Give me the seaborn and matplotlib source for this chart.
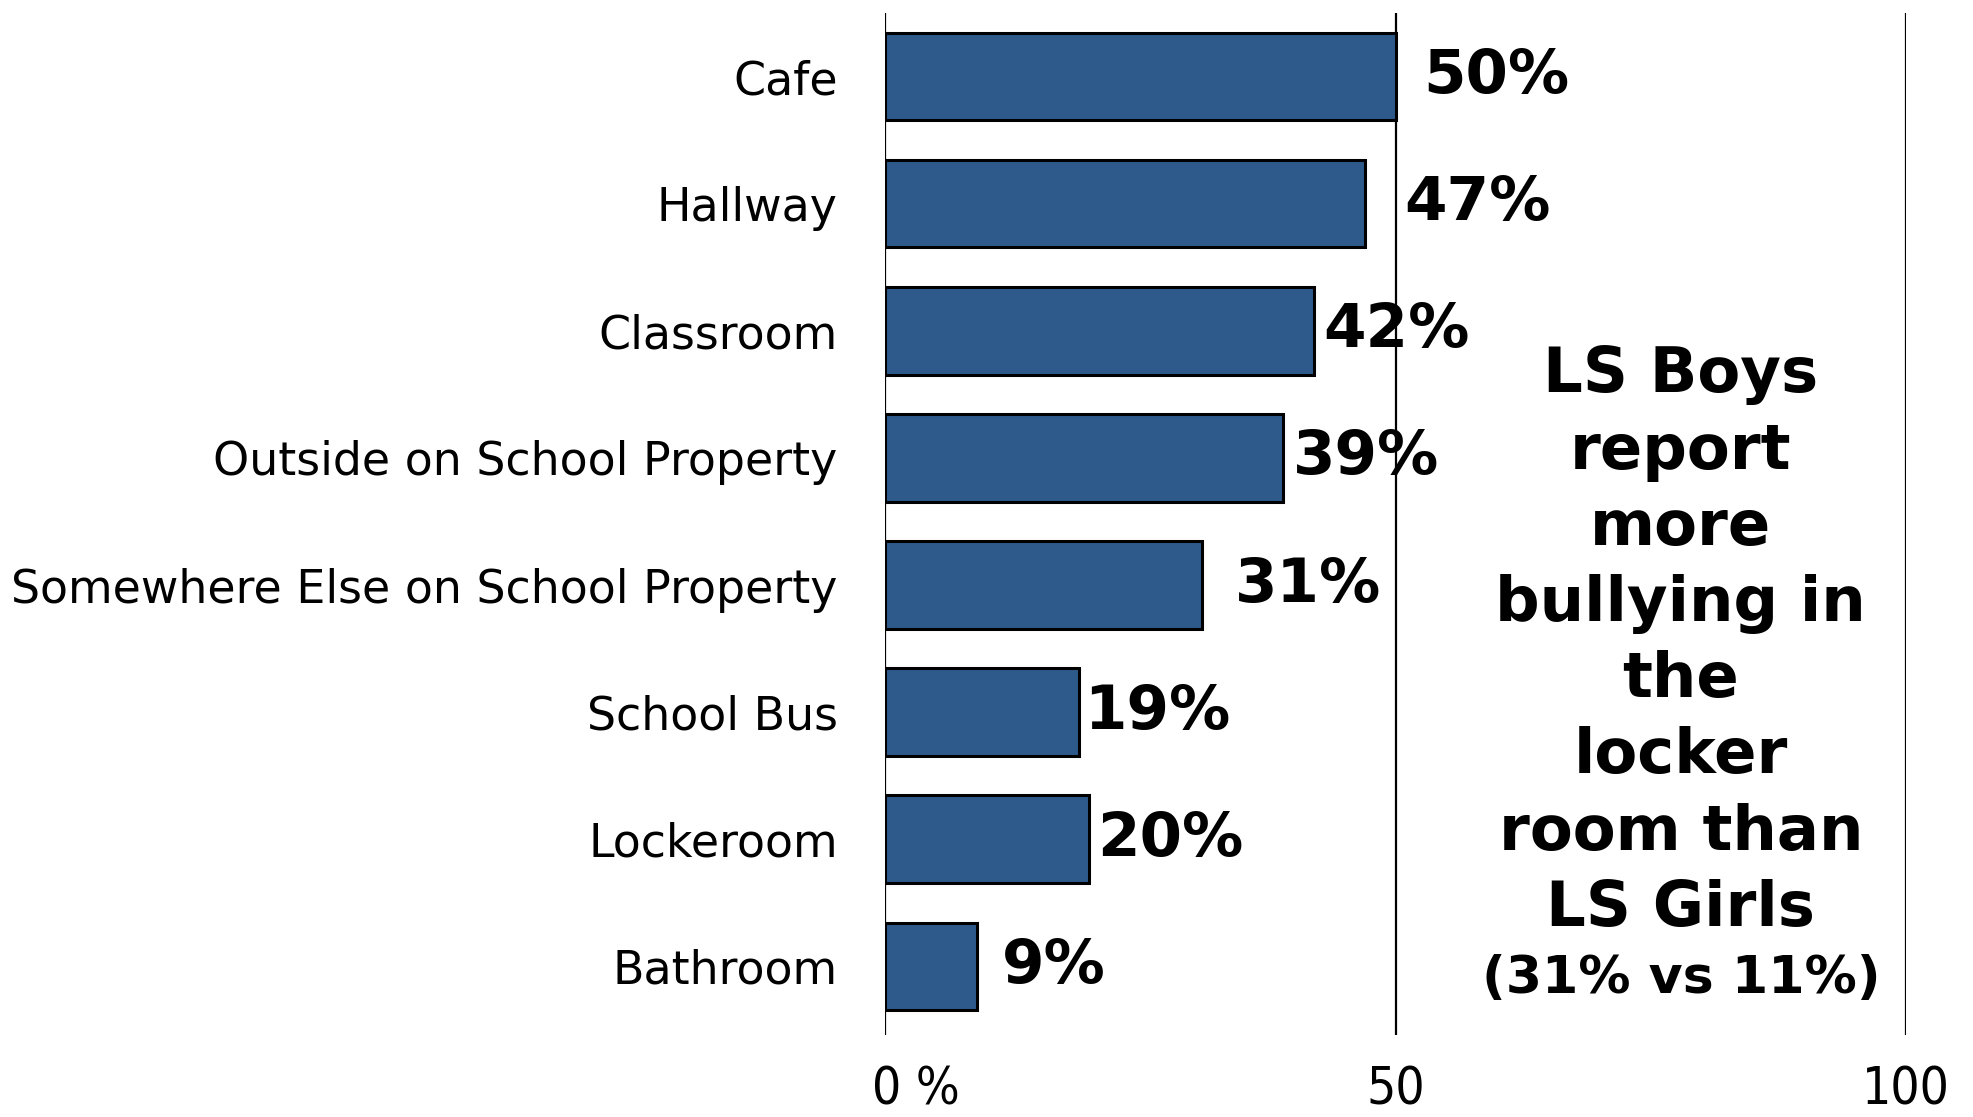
import matplotlib
matplotlib.use("Agg")
import matplotlib.pyplot as plt
import matplotlib.transforms as mtransforms
import seaborn as sns
import pandas as pd

# Where bullying happens (percent of respondents)
locations = ["Cafe", "Hallway", "Classroom", "Outside on School Property",
             "Somewhere Else on School Property", "School Bus", "Lockeroom", "Bathroom"]
percents = [50, 47, 42, 39, 31, 19, 20, 9]
value_labels = ["50%", "47%", "42%", "39%", "31%", "19%", "20%", "9%"]
tick_values = [0, 50, 100]
tick_labels = ["0 %", "50", "100"]
note_lines = ["LS Boys", "report", "more", "bullying in", "the", "locker",
              "room than", "LS Girls"]
note_sub = "(31% vs 11%)"

# horizontal gap (in points) between each bar end and its label
label_gaps = [20, 28, 7, 7, 24, 4, 6, 18]

sns.set_theme(style="white")
plt.rcParams["font.family"] = ["DejaVu Sans"]

df = pd.DataFrame({"location": locations, "percent": percents})

fig = plt.figure(figsize=(19.74, 11.17), dpi=100)
ax = fig.add_axes([0.4483, 0.0734, 0.5173, 0.915])

sns.barplot(data=df, x="percent", y="location", orient="h", color="#2E5A8B",
            saturation=1, edgecolor="black", linewidth=2.2, width=0.69, ax=ax)

ax.set_xlim(0, 100)
ax.set_ylim(7.54, -0.5)
for s in ax.spines.values():
    s.set_visible(False)

for v in tick_values:
    ax.axvline(v, color="black", lw=1.6, zorder=0)

# x tick labels drawn as text so the "0" sits centred on its line
ax.set_xticks(tick_values)
ax.set_xticklabels([])
ax.tick_params(axis="x", length=0)
xlab_tf = ax.get_xaxis_transform()
for v, lab in zip(tick_values, tick_labels):
    if lab.startswith("0 "):
        tf = mtransforms.offset_copy(xlab_tf, fig=fig, x=-9, y=0, units="points")
        ax.text(v, -0.054, lab, transform=tf, ha="left", va="center",
                fontsize=37, fontstretch="condensed", color="black")
    else:
        ax.text(v, -0.054, lab, transform=xlab_tf, ha="center", va="center",
                fontsize=37, fontstretch="condensed", color="black")

ax.tick_params(axis="y", length=0, pad=34, labelsize=33)
for t in ax.get_yticklabels():
    t.set_color("black")
ax.set_xlabel("")
ax.set_ylabel("")

for i, (val, lab, gap) in enumerate(zip(percents, value_labels, label_gaps)):
    ax.annotate(lab, xy=(val, i), xytext=(gap, 0), textcoords="offset points",
                ha="left", va="center", fontsize=44, fontweight="bold", color="black")

fig.text(0.8515, 0.4252, "\n".join(note_lines), ha="center", va="center",
         fontsize=45, fontweight="bold", linespacing=1.345, color="black")
fig.text(0.8515, 0.1235, note_sub, ha="center", va="center",
         fontsize=37.5, fontweight="bold", color="black")

fig.savefig("out.png", dpi=100)
